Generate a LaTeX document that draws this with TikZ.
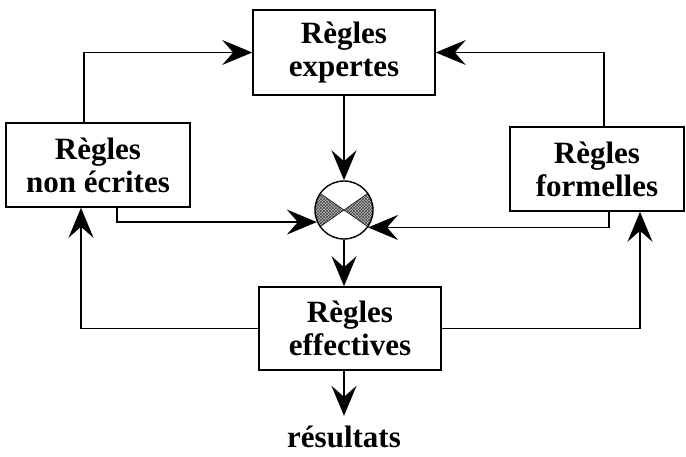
\documentclass[tikz,border=0pt]{standalone}
\usepackage{fontspec}
\setmainfont{Liberation Serif}
\usetikzlibrary{arrows.meta,patterns,calc}
\begin{document}
\begin{tikzpicture}[x=1pt,y=-1pt,
  box/.style={draw,line width=1.6pt,align=center,font=\fontsize{31}{33}\selectfont\bfseries,inner sep=0pt},
  arr/.style={line width=1.7pt,-{Stealth[length=30pt,width=25pt,inset=11pt]}},
  wedge/.style={fill=black!25,postaction={pattern=crosshatch,pattern color=black!75}}]
\useasboundingbox (0,0) rectangle (686,457);
\node[box,minimum width=182pt,minimum height=85pt] (exp) at (344,52.5) {Règles\\expertes};
\node[box,minimum width=184pt,minimum height=84pt] (nonec) at (98,165) {Règles\\non écrites};
\node[box,minimum width=174pt,minimum height=84pt] (form) at (597,169) {Règles\\formelles};
\node[box,minimum width=182pt,minimum height=83pt] (eff) at (350,328.5) {Règles\\effectives};
\node[font=\fontsize{31}{33}\selectfont\bfseries,inner sep=0pt] (res) at (344,437) {résultats};
% mixing circle
\fill[wedge] (344,210) -- ++(145:29pt) arc[start angle=145,end angle=215,radius=29pt] -- cycle;
\fill[wedge] (344,210) -- ++(-35:29pt) arc[start angle=-35,end angle=35,radius=29pt] -- cycle;
\draw[line width=0.5pt] (344,210) -- ++(145:29pt) (344,210) -- ++(215:29pt)
  (344,210) -- ++(35:29pt) (344,210) -- ++(-35:29pt);
\node[draw,circle,minimum size=58pt,inner sep=0pt,line width=1.4pt] (c) at (344,210) {};
% connectors
\draw[arr] ([xshift=-14pt]nonec.north) |- (exp.west);
\draw[arr] ([xshift=7pt]form.north) |- (exp.east);
\draw[arr] (exp.south -| c.north) -- (c.north);
\draw[arr] ([xshift=19pt]nonec.south) |- (c.204);
\draw[arr] ([xshift=12pt]form.south) |- (c.324);
\draw[arr] (c.south) -- (c.south |- eff.north);
\draw[arr] (eff.west) -| ([xshift=-17pt]nonec.south);
\draw[arr] (eff.east) -| ([xshift=43pt]form.south);
\draw[arr] (eff.south -| c.south) -- ([yshift=10pt]res.north);
\end{tikzpicture}
\end{document}
